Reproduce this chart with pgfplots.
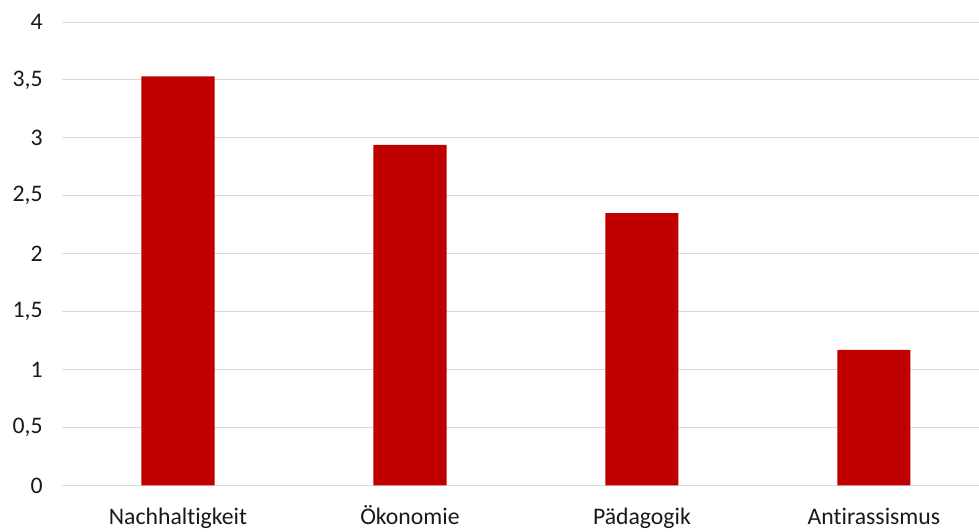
\documentclass[border=0pt]{standalone}
\usepackage{fontspec}
\setmainfont[Ligatures=NoCommon]{Carlito}
\usepackage{pgfplots}
\pgfplotsset{compat=1.18}
\definecolor{barred}{HTML}{C00000}
\definecolor{gridgray}{HTML}{D9D9D9}
\begin{document}
\begin{tikzpicture}
\begin{axis}[
  scale only axis,
  width=687.75pt, height=347.6pt,
  xmin=-0.5, xmax=3.453,
  ymin=0, ymax=4,
  axis x line*=bottom,
  axis y line*=left,
  x axis line style={draw=gridgray, line width=0.75pt},
  y axis line style={draw=none},
  ymajorgrids,
  grid style={draw=gridgray, line width=0.75pt},
  major tick length=0pt,
  xtick={0,1,2,3},
  xticklabels={Nachhaltigkeit,Ökonomie,Pädagogik,Antirassismus},
  ytick={0,0.5,...,4},
  yticklabel style={anchor=east, xshift=-11pt},
  xticklabel style={anchor=north, text height=12pt, text depth=3pt, yshift=-14pt},
  tick label style={font=\fontsize{17.8}{21}\selectfont, text=black!90},
  /pgf/number format/use comma,
  /pgf/number format/assume math mode=true,
  ybar, bar width=0.315, bar shift=0pt,
  clip=false,
]
\addplot[fill=barred, draw=none] coordinates {
  (0,3.53) (1,2.94) (2,2.35) (3,1.17)
};
\end{axis}
\pgfresetboundingbox
\useasboundingbox (-46.5pt,-34.9pt) rectangle (687.75pt,364.1pt);
\end{tikzpicture}
\end{document}
